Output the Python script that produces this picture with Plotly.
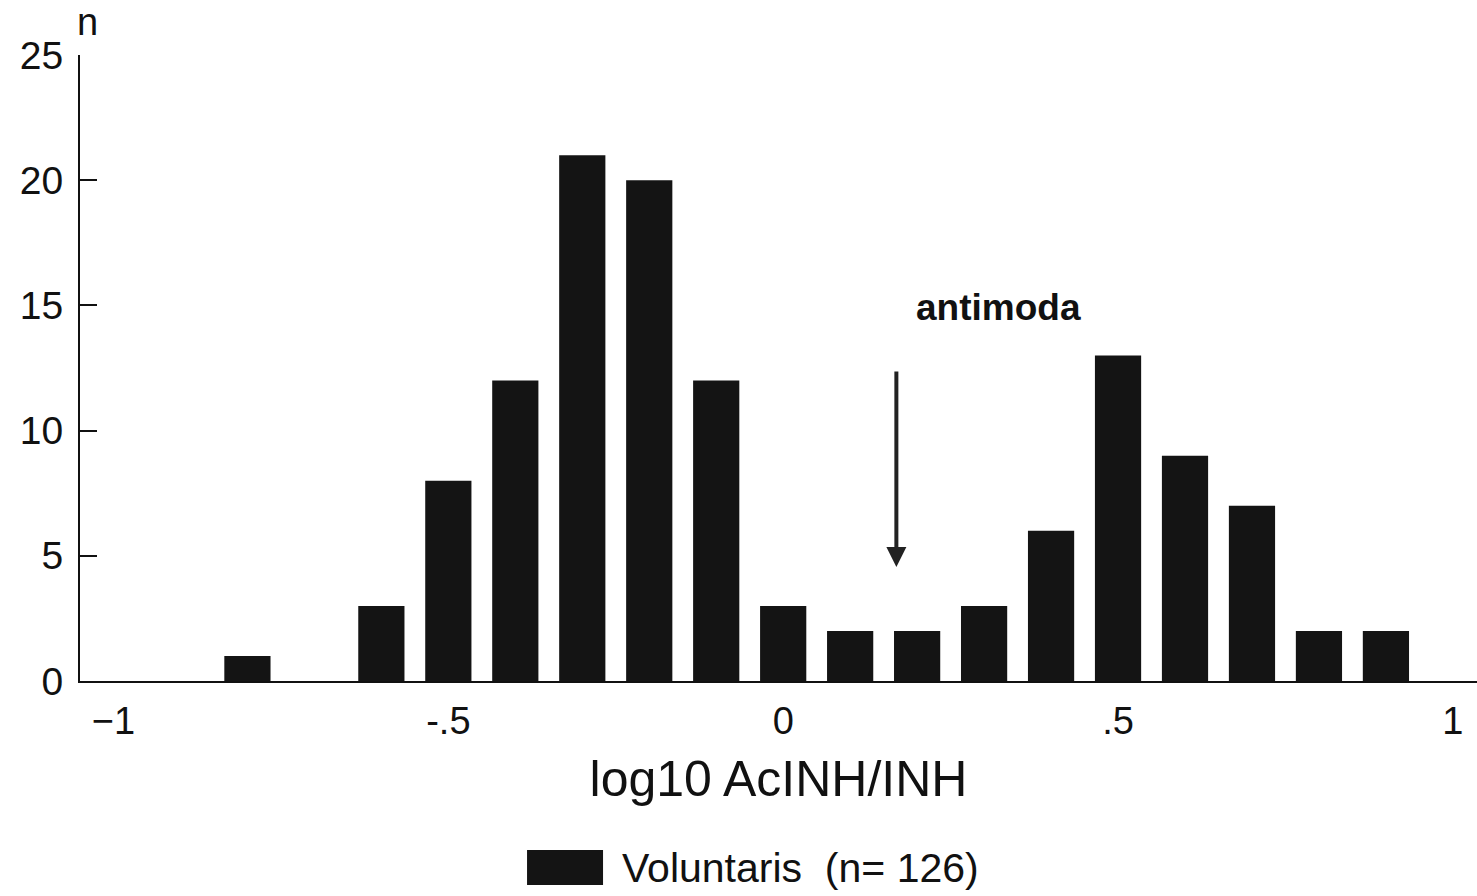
import plotly.graph_objects as go

# Data
bin_centers = [-0.8, -0.6, -0.5, -0.4, -0.3, -0.2, -0.1, 0.0, 0.1, 0.2, 0.3, 0.4, 0.5, 0.6, 0.7, 0.8, 0.9]
counts = [1, 3, 8, 12, 21, 20, 12, 3, 2, 2, 3, 6, 13, 9, 7, 2, 2]
x_tick_vals = [-1, -0.5, 0, 0.5, 1]
x_tick_text = ["\u22121", "-.5", "0", ".5", "1"]
y_tick_vals = [0, 5, 10, 15, 20, 25]
series_name = "Voluntaris  (n= 126)"
antimoda_x = 0.169
antimoda_tip_y = 4.55
antimoda_tail_y = 12.42

FONT = "Liberation Sans"
BAR_COLOR = "#141414"

fig = go.Figure()
fig.add_trace(go.Bar(
    x=bin_centers, y=counts, width=0.069,
    marker=dict(color=BAR_COLOR, line=dict(width=0)),
    name=series_name, showlegend=False,
))

fig.update_layout(
    width=1477, height=896,
    margin=dict(l=80, r=0, t=55, b=215),
    paper_bgcolor="white", plot_bgcolor="white",
    font=dict(family=FONT, color="#111", size=38),
    xaxis=dict(
        range=[-1.05, 1.036], showgrid=False, zeroline=False,
        showline=True, linecolor="#111", linewidth=2,
        tickvals=x_tick_vals, ticktext=x_tick_text, ticks="",
        ticklabelstandoff=5,
        tickfont=dict(size=38, family=FONT),
        title=dict(text="log10 AcINH/INH", font=dict(size=50, family=FONT), standoff=20),
    ),
    yaxis=dict(
        range=[0, 25], showgrid=False, zeroline=False,
        showline=True, linecolor="#111", linewidth=2,
        tickvals=y_tick_vals, ticks="inside", ticklen=17, tickwidth=2, tickcolor="#111",
        ticklabelstandoff=7,
        tickfont=dict(size=39, family=FONT),
    ),
    showlegend=False,
)

# y-axis unit label
fig.add_annotation(xref="paper", yref="paper", x=0.0057, y=1.0527, text="n",
                   showarrow=False, font=dict(size=38, family=FONT), xanchor="center", yanchor="middle")

# antimoda label and arrow
fig.add_annotation(x=0.321, y=14.9, text="<b>antimoda</b>", showarrow=False,
                   font=dict(size=37, family=FONT, color="#111"), xanchor="center", yanchor="middle")
fig.add_annotation(x=antimoda_x, y=antimoda_tip_y, ax=antimoda_x, ay=antimoda_tail_y,
                   axref="x", ayref="y", xref="x", yref="y", text="",
                   showarrow=True, arrowhead=2, arrowsize=1.0, arrowwidth=4, arrowcolor="#222")

# legend (drawn manually to match the large swatch)
fig.add_shape(type="rect", xref="paper", yref="paper",
              x0=0.32, x1=0.3744, y0=-0.326, y1=-0.27,
              fillcolor=BAR_COLOR, line=dict(width=0))
fig.add_annotation(xref="paper", yref="paper", x=0.3865, y=-0.2987, text=series_name,
                   showarrow=False, font=dict(size=41, family=FONT), xanchor="left", yanchor="middle")

fig.write_html("out.html")
